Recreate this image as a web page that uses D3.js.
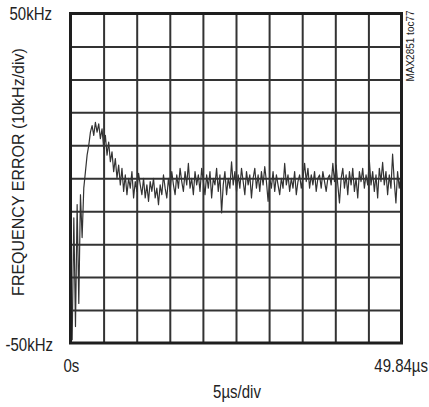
<!DOCTYPE html>
<html>
<head>
<meta charset="utf-8">
<script src="https://cdn.jsdelivr.net/npm/d3@7"></script>
<style>
html,body{margin:0;padding:0;background:#fff;}
svg{display:block;font-family:"Liberation Sans",Arial,sans-serif;}
</style>
</head>
<body>
<svg id="chart" width="429" height="407"></svg>
<script>
// ---- data ----
const timeRangeUs = [0, 49.84];          // x axis span (µs)
const freqRangeKHz = [-50, 50];          // y axis span (kHz)
const sampleStepUs = 0.25;               // sample interval of the trace
const xDivTicks = [0,1,2,3,4,5,6,7,8,9,10];   // 5µs/div grid divisions
const yDivTicks = [-50,-40,-30,-20,-10,0,10,20,30,40,50];
const xTickLabels = ["0s", "49.84µs"];
const yTickLabels = ["50kHz", "-50kHz"];
const xTitle = "5µs/div";
const yTitle = "FREQUENCY ERROR (10kHz/div)";
const noteText = "MAX2851 toc77";
// frequency error trace (kHz), one value per sample
const freqErrorKHz = [
  -30,-49,-12,-45,-8,-38,-5,-18,
  -3,2,7,10,14,16,13,17,
  14,16.5,12,15,9,13,7,11,
  5,8,2,6,0,4,-2,3,
  -4,1,-5,0,-3,2,-6,-1,-4,1.5,-2,-5,0,-6,-2,-7,-1,-4,0,-6,-3,-8,-2,-5,1,
  -3,-6,0,-4,2,-2,-5,1,-3,3,-1,-4,2,-2,4.5,-3,0,-5,2,-2,1,-4,3,-1,
  -5,1,-3,2,-6,0,-2,3,-4,1,-10.5,-2,2,-5,0,-3,5,-2,2,-4,
  1,-3,3,-1,-5,2,-2,1,-6,0,3,-3,1,-4,2,-2,3.5,-1,-7,0,-3,2,-4,1,-2,-5,0,-3,
  4.5,-2,1,-4,0,-3,2,-5,-1,1,-3,0,4.5,-1,3,-3,1,-2,2,-4,0,1,-3,2,-1,-4,0,1,-2,4.5,
  -1,4,-2,-7.5,0,3,-3,1,-5,2,-2,3,-4,0,-6,2,-1,3,-3,1,-2,5.4,-2,2,-4,1,-6,3,-1,4.8,
  -2,2,-5,1,-3,7.3,-1,-7.5,2,-3,1
];

// ---- layout ----
const svg = d3.select("#chart");
const L = 70.5, R = 401.5, T = 13.5, B = 343;
const x = d3.scaleLinear().domain(timeRangeUs).range([L, R]);
const y = d3.scaleLinear().domain(freqRangeKHz).range([B, T]);
const xDiv = d3.scaleLinear().domain([0, 10]).range([L, R]);

// grid via axes
svg.append("g")
  .attr("transform", `translate(0,${B})`)
  .call(d3.axisBottom(xDiv).tickValues(xDivTicks.slice(1, -1)).tickSize(-(B - T)).tickFormat(""))
  .call(g => g.select(".domain").remove())
  .call(g => g.selectAll("line").attr("stroke", "#333").attr("stroke-width", 2));
svg.append("g")
  .attr("transform", `translate(${L},0)`)
  .call(d3.axisLeft(y).tickValues(yDivTicks.slice(1, -1)).tickSize(-(R - L)).tickFormat(""))
  .call(g => g.select(".domain").remove())
  .call(g => g.selectAll("line").attr("stroke", "#333").attr("stroke-width", 2));

// trace
const pts = freqErrorKHz.map((v, i) => [i * sampleStepUs, v]);
svg.append("path")
  .datum(pts)
  .attr("fill", "none")
  .attr("stroke", "#333")
  .attr("stroke-width", 1.2)
  .attr("stroke-linejoin", "round")
  .attr("d", d3.line().x(d => x(d[0])).y(d => y(d[1])));

// frame
svg.append("rect")
  .attr("x", L).attr("y", T).attr("width", R - L).attr("height", B - T)
  .attr("fill", "none").attr("stroke", "#1e1e1e").attr("stroke-width", 3);

// labels (slightly tall glyphs, as in the reference)
const lab = (t, xx, yy, anchor, size) => svg.append("text")
  .attr("transform", `translate(${xx},${yy}) scale(1,1.18)`)
  .attr("text-anchor", anchor)
  .attr("font-size", size).attr("fill", "#222").text(t);

lab(yTickLabels[0], 52, 19.5, "end", 15);
lab(yTickLabels[1], 53, 351, "end", 15);
lab(xTickLabels[0], x(timeRangeUs[0]) - 7, 372, "start", 15);
lab(xTickLabels[1], 428, 372, "end", 15);
lab(xTitle, 237, 398, "middle", 15);

svg.append("text")
  .attr("transform", `translate(24,172) rotate(-90)`)
  .attr("text-anchor", "middle").attr("font-size", 16).attr("fill", "#222")
  .text(yTitle);

svg.append("text")
  .attr("transform", `translate(414,46) rotate(-90)`)
  .attr("text-anchor", "middle").attr("font-size", 10).attr("fill", "#222")
  .text(noteText);
</script>
</body>
</html>
